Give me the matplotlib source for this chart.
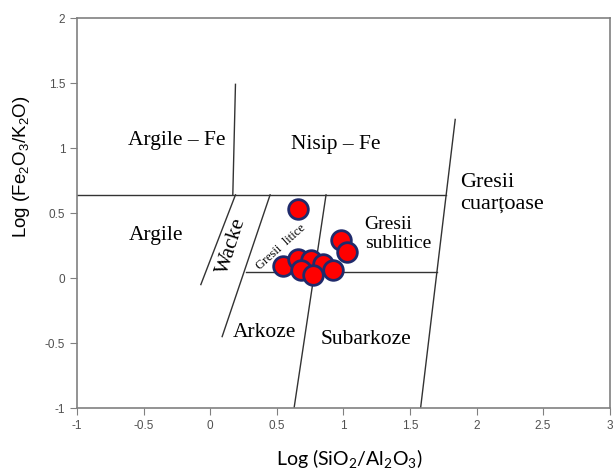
import matplotlib
matplotlib.use("Agg")
import matplotlib.pyplot as plt

# sample points: Log(SiO2/Al2O3), Log(Fe2O3/K2O)
sample_x = [0.66, 0.98, 1.03, 0.55, 0.66, 0.76, 0.85, 0.92, 0.68, 0.77]
sample_y = [0.53, 0.29, 0.20, 0.09, 0.15, 0.14, 0.11, 0.06, 0.06, 0.02]

# classification field boundaries (x pairs, y pairs)
boundary_x = [
    [-1.0, 1.77],    # main horizontal
    [0.17, 0.19],    # Argile / Argile-Fe
    [0.19, -0.07],   # Argile / Wacke
    [0.45, 0.09],    # Wacke / Gresii litice, Arkoze
    [0.87, 0.63],    # litice / sublitice, Arkoze / Subarkoze
    [0.27, 1.70],    # lower horizontal
    [1.58, 1.84],    # Gresii cuartoase
]
boundary_y = [
    [0.64, 0.64],
    [0.64, 1.49],
    [0.64, -0.05],
    [0.64, -0.45],
    [0.64, -1.0],
    [0.05, 0.05],
    [-1.0, 1.22],
]

# field labels: text, x, y, rotation, size, alignment
field_text = ["Argile – Fe", "Nisip – Fe", "Gresii\ncuarțoase", "Argile", "Wacke",
              "Gresii  litice", "Gresii\nsublitice", "Arkoze", "Subarkoze"]
field_x = [-0.25, 0.94, 1.88, -0.41, 0.16, 0.53, 1.16, 0.41, 1.17]
field_y = [1.06, 1.03, 0.65, 0.33, 0.25, 0.24, 0.34, -0.42, -0.47]
field_rot = [0, 0, 0, 0, 72, 42, 0, 0, 0]
field_size = [15.5, 15.5, 16, 15.5, 15.5, 9, 14, 15.5, 15.5]
field_ha = ["center", "center", "left", "center", "center", "center", "left", "center", "center"]

plt.rcParams["mathtext.default"] = "regular"

fig = plt.figure(figsize=(6.13, 4.74), dpi=100)
ax = fig.add_axes([0.1256, 0.139, 0.869, 0.823])

for bx, by in zip(boundary_x, boundary_y):
    ax.plot(bx, by, color="#333333", lw=1.0)

for t, x, y, r, s, ha in zip(field_text, field_x, field_y, field_rot, field_size, field_ha):
    ax.text(x, y, t, rotation=r, fontsize=s, ha=ha, va="center",
            family="Liberation Serif", linespacing=1.2, rotation_mode="anchor")

ax.scatter(sample_x, sample_y, s=200, color="#ff0000", edgecolors="#1f2a6b",
           linewidths=2.0, zorder=5)

ax.set_xlim(-1, 3)
ax.set_ylim(-1, 2)
ax.set_xticks([-1, -0.5, 0, 0.5, 1, 1.5, 2, 2.5, 3])
ax.set_xticklabels(["-1", "-0.5", "0", "0.5", "1", "1.5", "2", "2.5", "3"])
ax.set_yticks([-1, -0.5, 0, 0.5, 1, 1.5, 2])
ax.set_yticklabels(["-1", "-0.5", "0", "0.5", "1", "1.5", "2"])
for sp in ax.spines.values():
    sp.set_color("#808080")
    sp.set_linewidth(1.2)
ax.tick_params(direction="out", length=5, color="#808080", labelsize=8.5,
               labelcolor="#505050")
for lab in ax.get_xticklabels() + ax.get_yticklabels():
    lab.set_family("Liberation Sans")

ax.set_xlabel("Log (SiO$_2$/Al$_2$O$_3$)", fontsize=14, family="Lato")
ax.set_ylabel("Log (Fe$_2$O$_3$/K$_2$O)", fontsize=13.5, family="Liberation Sans")
ax.xaxis.set_label_coords(0.512, -0.1)
ax.yaxis.set_label_coords(-0.085, 0.62)

fig.savefig("out.png", dpi=100)
